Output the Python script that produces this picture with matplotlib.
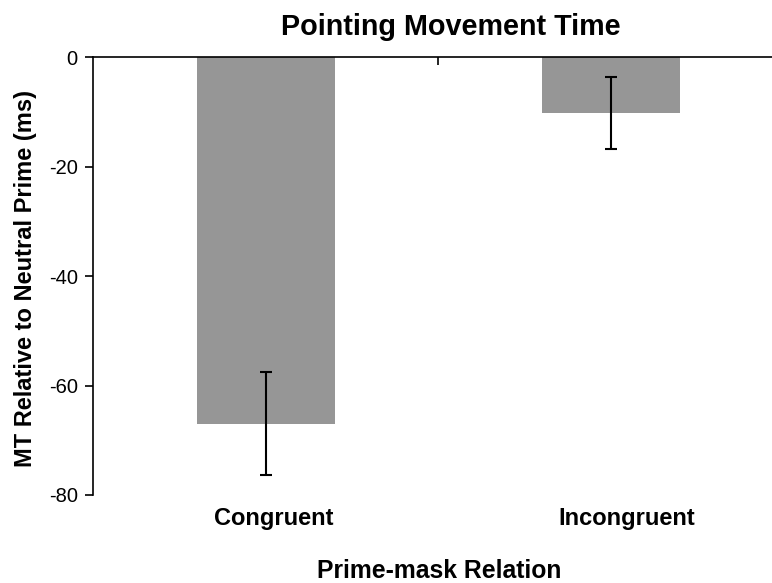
import numpy as np
import matplotlib
matplotlib.use("Agg")
import matplotlib.pyplot as plt

# values
relations = ["Congruent", "Incongruent"]
mt_diff = [-67.0, -10.2]
mt_err = [9.4, 6.6]
yticks = [0, -20, -40, -60, -80]

plt.rcParams['font.family'] = ['Liberation Sans', 'DejaVu Sans']

fig = plt.figure(figsize=(7.72, 5.83), dpi=100)
ax = fig.add_axes([0.1205, 0.151, 0.8938, 0.7507])

x = np.arange(len(relations))
ax.bar(x, mt_diff, width=0.4, color='#969696', zorder=1)
ax.errorbar(x, mt_diff, yerr=mt_err, fmt='none', ecolor='black',
            elinewidth=1.5, capsize=4, capthick=1.5, zorder=2)

ax.set_xlim(-0.5, 1.5)
ax.set_ylim(-80, 0)
ax.set_yticks(yticks)
ax.set_yticklabels([str(t) for t in yticks])
ax.tick_params(axis='y', direction='out', length=6, width=1.2, pad=5, labelsize=14.5)

# category labels below (slightly right of the bars, as in the original)
ax.set_xticks(x + np.array([0.023, 0.048]))
ax.set_xticklabels(relations, fontweight='bold', fontsize=17)
ax.tick_params(axis='x', which='major', bottom=True, top=False, length=0, pad=9)
# separator tick on the zero line
ax.set_xticks([0.5], minor=True)
ax.tick_params(axis='x', which='minor', bottom=False, top=True, direction='in',
               length=6, width=1.2)

for side in ['bottom', 'right']:
    ax.spines[side].set_visible(False)
ax.spines['left'].set_linewidth(1.2)
ax.spines['top'].set_linewidth(1.2)

fig.text(0.5687, 0.008, 'Prime-mask Relation', fontweight='bold', fontsize=17.8,
         ha='center', va='baseline')
fig.text(0.033, 0.523, 'MT Relative to Neutral Prime (ms)', fontweight='bold', fontsize=17,
         rotation=90, ha='center', va='center')
fig.text(0.584, 0.94, 'Pointing Movement Time', fontweight='bold', fontsize=20.7,
         ha='center', va='baseline')

fig.savefig('out.png', dpi=100)
